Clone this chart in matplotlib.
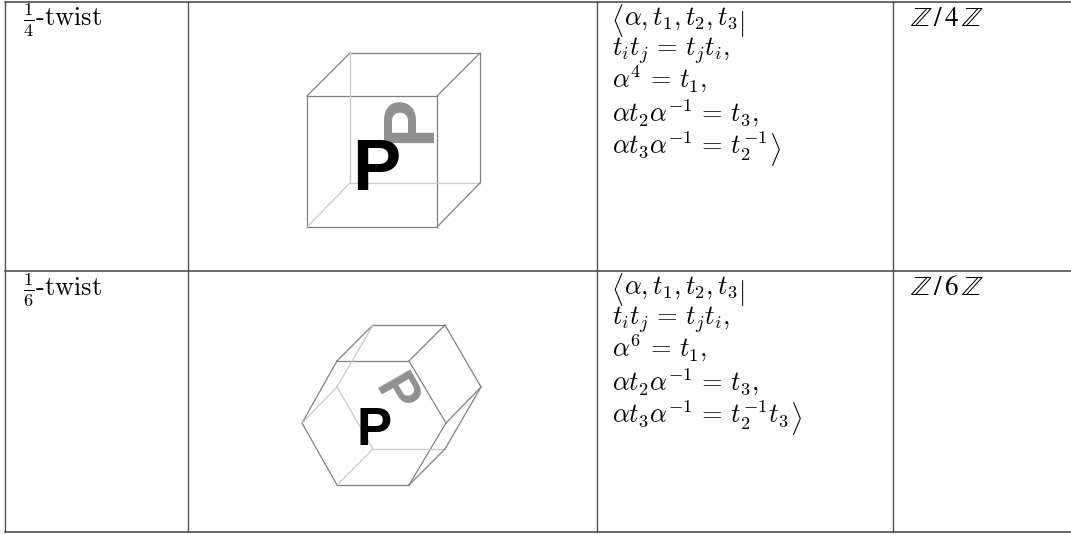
import matplotlib
matplotlib.use("Agg")
from matplotlib import pyplot as plt

# table grid, pixels of the page
col_x = [5, 188, 597, 893]
row_y = [2, 271, 532]

twists = [r"$\frac{1}{4}$-twist", r"$\frac{1}{6}$-twist"]
groups = [r"$\mathbb{Z}\,/\,4\,\mathbb{Z}$", r"$\mathbb{Z}\,/\,6\,\mathbb{Z}$"]
relations_4 = [
    r"$\alpha, t_1, t_2, t_3$",
    r"$t_i t_j\,=\,t_j t_i,$",
    r"$\alpha^4\,=\,t_1,$",
    r"$\alpha t_2 \alpha^{-1}\,=\,t_3,$",
    r"$\alpha t_3 \alpha^{-1}\,=\,t_2^{-1}$",
]
relations_6 = [
    r"$\alpha, t_1, t_2, t_3$",
    r"$t_i t_j\,=\,t_j t_i,$",
    r"$\alpha^6\,=\,t_1,$",
    r"$\alpha t_2 \alpha^{-1}\,=\,t_3,$",
    r"$\alpha t_3 \alpha^{-1}\,=\,t_2^{-1}t_3$",
]
closers = [r"$|$", "", "", "", r"$\rangle$"]
line_offsets = [23, 54, 86, 120, 152]

# box corners
cube_front = [(307, 96), (437, 96), (437, 227), (307, 227)]
cube_back = [(350, 53), (480, 53), (480, 183), (350, 183)]
hex_front = [(337, 361), (409, 361), (446, 423), (409, 485), (337, 485), (302, 423)]
hex_back = [(373, 325), (445, 325), (481, 387), (445, 449), (373, 449), (337, 387)]

EDGE = "#808080"
HIDDEN = "#c8c8c8"
DELIM_DROP = 6


def func_draw_box(ax, front, back, hidden):
    """
    Draw front face, back face and the joining edges, hidden ones are lighter
    """
    n = len(front)
    for i in range(n):
        j = (i + 1) % n
        ax.plot([front[i][0], front[j][0]], [front[i][1], front[j][1]], color=EDGE, lw=0.9)
        c = HIDDEN if i in hidden or j in hidden else EDGE
        ax.plot([back[i][0], back[j][0]], [back[i][1], back[j][1]], color=c, lw=0.9)
        c = HIDDEN if i in hidden else EDGE
        ax.plot([front[i][0], back[i][0]], [front[i][1], back[i][1]], color=c, lw=0.9)


def func_draw_cell_text(ax, top, twist, group, relations):
    """
    Fill the text cells of one table row
    """
    renderer = ax.figure.canvas.get_renderer()
    ax.text(col_x[0] + 18, top + 24, twist, family="cmr10", math_fontfamily="cm", fontsize=19, va="baseline")
    ax.text(col_x[3] + 17, top + 24, group, math_fontfamily="stix", fontsize=19.5, va="baseline")
    # mathtext sets the angle brackets too high, so they are separate texts
    ax.text(col_x[2] + 14, top + line_offsets[0] + DELIM_DROP, r"$\langle$", math_fontfamily="cm", fontsize=19, va="baseline")
    for i, (line, off) in enumerate(zip(relations, line_offsets)):
        x = col_x[2] + 15
        if i == 0:
            x += 12
        t = ax.text(x, top + off, line, math_fontfamily="cm", fontsize=19, va="baseline")
        if closers[i]:
            x1 = t.get_window_extent(renderer).x1
            ax.text(x1 + 1, top + off + DELIM_DROP, closers[i], math_fontfamily="cm", fontsize=19, va="baseline")


fig = plt.figure(figsize=(10.71, 5.34), dpi=100)
ax = fig.add_axes([0, 0, 1, 1])
ax.set_xlim(0, 1071)
ax.set_ylim(534, 0)
ax.axis("off")

for y in row_y:
    ax.plot([col_x[0], 1071], [y, y], color="#404040", lw=1.1)
for x in col_x:
    ax.plot([x, x], [row_y[0], row_y[2]], color="#505050", lw=1.0)

func_draw_box(ax, cube_front, cube_back, [3])
func_draw_box(ax, hex_front, hex_back, [4, 5])

ax.text(376, 171, "P", family="Liberation Sans", weight="bold", fontsize=52, color="black",
        ha="center", va="center", zorder=4)
ax.text(411, 119, "P", family="Liberation Sans", weight="bold", fontsize=52, color="#909090",
        ha="center", va="center", rotation=90, rotation_mode="anchor", zorder=3)
ax.text(374, 431, "P", family="Liberation Sans", weight="bold", fontsize=38, color="black",
        ha="center", va="center", zorder=4)
ax.text(394, 395, "P", family="Liberation Sans", weight="bold", fontsize=38, color="#909090",
        ha="center", va="center", rotation=-60, rotation_mode="anchor", zorder=3)

func_draw_cell_text(ax, row_y[0], twists[0], groups[0], relations_4)
func_draw_cell_text(ax, row_y[1], twists[1], groups[1], relations_6)

fig.savefig("out.png", dpi=100)
